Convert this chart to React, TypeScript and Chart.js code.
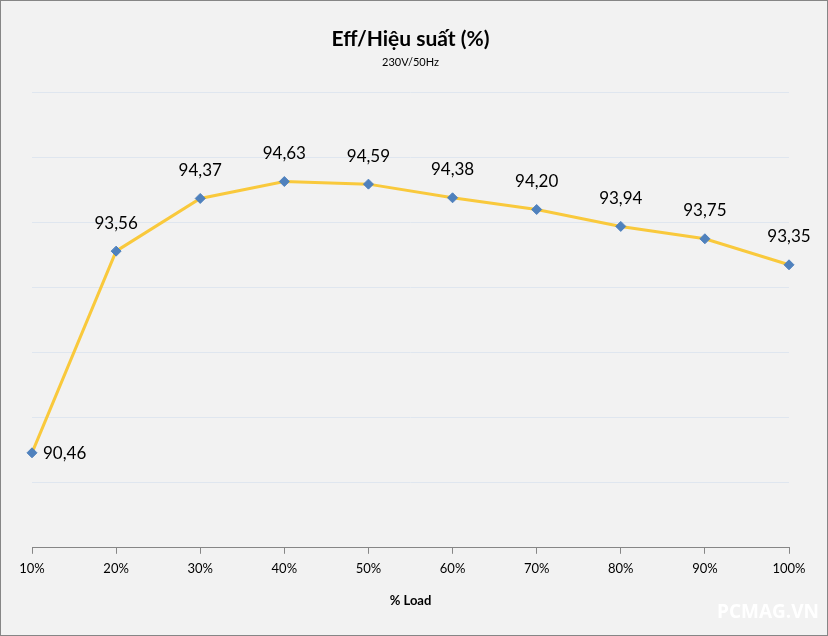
import React, { useEffect, useRef } from "react";
import { Chart, registerables } from "chart.js";

Chart.register(...registerables);

const categories = ["10%", "20%", "30%", "40%", "50%", "60%", "70%", "80%", "90%", "100%"];
const efficiency = [90.46, 93.56, 94.37, 94.63, 94.59, 94.38, 94.2, 93.94, 93.75, 93.35];
const yMin = 89;
const yMax = 96;
const yStep = 1;

const FONT = "Lato, 'Open Sans', sans-serif";

const labelPlugin = {
  id: "pointLabels",
  afterDatasetsDraw(chart: any) {
    const ctx = chart.ctx;
    const meta = chart.getDatasetMeta(0);
    ctx.save();
    ctx.font = `17px ${FONT}`;
    ctx.fillStyle = "#000000";
    ctx.textBaseline = "middle";
    meta.data.forEach((pt: any, i: number) => {
      const txt = efficiency[i].toFixed(2).replace(".", ",");
      if (i === 0) {
        ctx.textAlign = "left";
        ctx.fillText(txt, pt.x + 11, pt.y + 1);
      } else {
        ctx.textAlign = "center";
        ctx.fillText(txt, pt.x, pt.y - 28);
      }
    });
    ctx.restore();
  },
};

export default function App() {
  const ref = useRef<HTMLCanvasElement>(null);
  useEffect(() => {
    document.body.style.margin = "0";
    const chart = new Chart(ref.current!, {
      type: "line",
      data: {
        labels: categories,
        datasets: [
          {
            data: efficiency,
            borderColor: "#f9c93c",
            borderWidth: 3,
            pointStyle: "rectRot",
            pointRadius: 5,
            pointBackgroundColor: "#4f81bd",
            pointBorderColor: "#4f81bd",
            pointBorderWidth: 1,
            tension: 0,
          },
        ],
      },
      options: {
        animation: false,
        responsive: false,
        devicePixelRatio: 1,
        layout: { padding: { left: 31, right: 38, top: 8, bottom: 26 } },
        plugins: {
          legend: { display: false },
          tooltip: { enabled: false },
          title: {
            display: true,
            text: "Eff/Hiệu suất (%)",
            color: "#000000",
            font: { family: FONT, size: 21, weight: "bold" },
            padding: { top: 18, bottom: 4 },
          },
          subtitle: {
            display: true,
            text: "230V/50Hz",
            color: "#000000",
            font: { family: FONT, size: 11 },
            padding: { top: 0, bottom: 23 },
          },
        },
        scales: {
          x: {
            type: "category",
            offset: false,
            grid: {
              display: true,
              drawOnChartArea: false,
              drawTicks: true,
              tickLength: 6,
              color: "#868686",
            },
            border: { display: true, color: "#868686", width: 1 },
            ticks: {
              color: "#000000",
              font: { family: FONT, size: 13 },
              padding: 7,
              maxRotation: 0,
              autoSkip: false,
            },
            title: {
              display: true,
              text: "% Load",
              color: "#000000",
              font: { family: FONT, size: 13, weight: "bold" },
              padding: { top: 10, bottom: 0 },
            },
          },
          y: {
            min: yMin,
            max: yMax,
            ticks: { display: false, stepSize: yStep },
            grid: { color: "#dfe6ef", drawTicks: false, lineWidth: 1 },
            border: { display: false },
          },
        },
      },
      plugins: [labelPlugin],
    });
    return () => chart.destroy();
  }, []);
  return (
    <div
      style={{
        position: "relative",
        width: 828,
        height: 636,
        boxSizing: "border-box",
        border: "1px solid #868686",
        background: "#f2f2f2",
        overflow: "hidden",
      }}
    >
      <canvas ref={ref} width={826} height={634} style={{ display: "block" }} />
      <div
        style={{
          position: "absolute",
          left: 716,
          top: 598,
          color: "#ffffff",
          fontFamily: "'Open Sans', sans-serif",
          fontWeight: "bold",
          fontSize: 19,
          lineHeight: "24px",
        }}
      >
        PCMAG.VN
      </div>
    </div>
  );
}
